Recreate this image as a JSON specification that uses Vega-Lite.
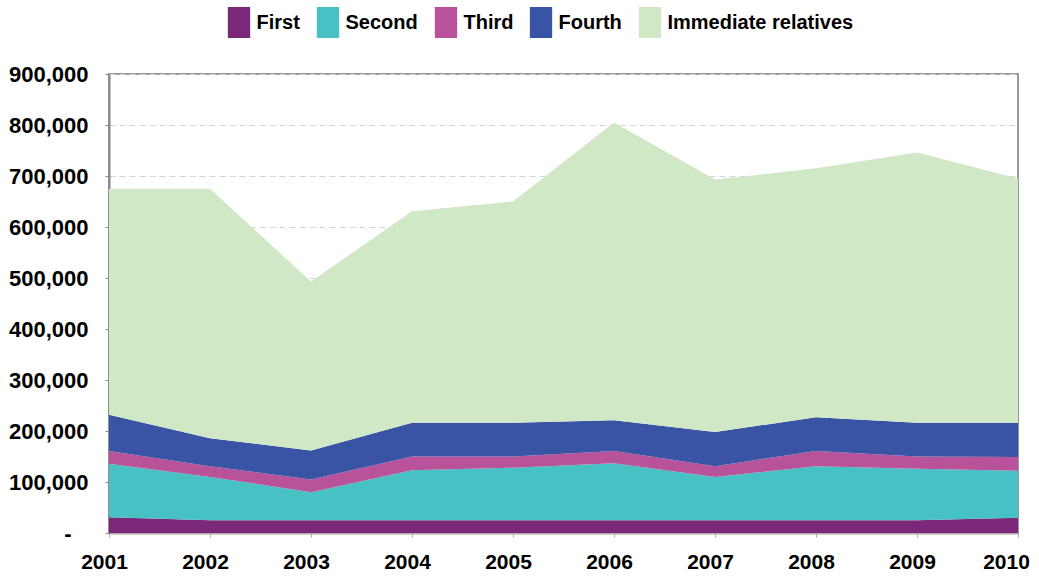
{
  "$schema": "https://vega.github.io/schema/vega-lite/v6.json",
  "autosize": "none",
  "width": 909,
  "height": 459,
  "padding": {"left": 109, "top": 74, "right": 21, "bottom": 53},
  "background": "white",
  "data": {
    "values": [
      {"year": "2001", "series": "First", "value": 31000},
      {"year": "2001", "series": "Second", "value": 105000},
      {"year": "2001", "series": "Third", "value": 25000},
      {"year": "2001", "series": "Fourth", "value": 71000},
      {"year": "2001", "series": "Immediate relatives", "value": 443000},
      {"year": "2002", "series": "First", "value": 25000},
      {"year": "2002", "series": "Second", "value": 85000},
      {"year": "2002", "series": "Third", "value": 21000},
      {"year": "2002", "series": "Fourth", "value": 55000},
      {"year": "2002", "series": "Immediate relatives", "value": 489000},
      {"year": "2003", "series": "First", "value": 25000},
      {"year": "2003", "series": "Second", "value": 55000},
      {"year": "2003", "series": "Third", "value": 25000},
      {"year": "2003", "series": "Fourth", "value": 57000},
      {"year": "2003", "series": "Immediate relatives", "value": 331000},
      {"year": "2004", "series": "First", "value": 25000},
      {"year": "2004", "series": "Second", "value": 98000},
      {"year": "2004", "series": "Third", "value": 27000},
      {"year": "2004", "series": "Fourth", "value": 66000},
      {"year": "2004", "series": "Immediate relatives", "value": 415000},
      {"year": "2005", "series": "First", "value": 25000},
      {"year": "2005", "series": "Second", "value": 103000},
      {"year": "2005", "series": "Third", "value": 22000},
      {"year": "2005", "series": "Fourth", "value": 66000},
      {"year": "2005", "series": "Immediate relatives", "value": 434000},
      {"year": "2006", "series": "First", "value": 25000},
      {"year": "2006", "series": "Second", "value": 112000},
      {"year": "2006", "series": "Third", "value": 24000},
      {"year": "2006", "series": "Fourth", "value": 60000},
      {"year": "2006", "series": "Immediate relatives", "value": 584000},
      {"year": "2007", "series": "First", "value": 25000},
      {"year": "2007", "series": "Second", "value": 85000},
      {"year": "2007", "series": "Third", "value": 21000},
      {"year": "2007", "series": "Fourth", "value": 67000},
      {"year": "2007", "series": "Immediate relatives", "value": 495000},
      {"year": "2008", "series": "First", "value": 25000},
      {"year": "2008", "series": "Second", "value": 106000},
      {"year": "2008", "series": "Third", "value": 30000},
      {"year": "2008", "series": "Fourth", "value": 66000},
      {"year": "2008", "series": "Immediate relatives", "value": 488000},
      {"year": "2009", "series": "First", "value": 25000},
      {"year": "2009", "series": "Second", "value": 101000},
      {"year": "2009", "series": "Third", "value": 24000},
      {"year": "2009", "series": "Fourth", "value": 66000},
      {"year": "2009", "series": "Immediate relatives", "value": 530000},
      {"year": "2010", "series": "First", "value": 30000},
      {"year": "2010", "series": "Second", "value": 92000},
      {"year": "2010", "series": "Third", "value": 27000},
      {"year": "2010", "series": "Fourth", "value": 67000},
      {"year": "2010", "series": "Immediate relatives", "value": 479000}
    ]
  },
  "transform": [
    {"calculate": "indexof(['First', 'Second', 'Third', 'Fourth', 'Immediate relatives'], datum.series)", "as": "stackOrder"}
  ],
  "mark": {"type": "area", "opacity": 1},
  "encoding": {
    "x": {
      "field": "year",
      "type": "ordinal",
      "scale": {"type": "point", "padding": 0},
      "axis": {
        "title": null,
        "labelAngle": 0,
        "labelFont": "Liberation Sans",
        "labelFontWeight": "bold",
        "labelFontSize": 21,
        "labelColor": "#000",
        "labelPadding": 14,
        "labelOffset": {"condition": {"test": "datum.label === '2010'", "value": -12}, "value": -5},
        "labelFlush": false,
        "labelOverlap": false,
        "domainColor": "#aaaaaa",
        "domainWidth": 2,
        "tickColor": "#aaaaaa",
        "tickSize": 4,
        "grid": false
      }
    },
    "y": {
      "field": "value",
      "type": "quantitative",
      "stack": "zero",
      "scale": {"domain": [0, 900000], "nice": false},
      "axis": {
        "title": null,
        "values": [0, 100000, 200000, 300000, 400000, 500000, 600000, 700000, 800000, 900000],
        "format": ",d",
        "labelExpr": "datum.value === 0 ? '-' : datum.label",
        "labelFont": "Liberation Sans",
        "labelFontWeight": "bold",
        "labelFontSize": 22,
        "labelColor": "#000",
        "labelPadding": {"condition": {"test": "datum.value === 0", "value": 34}, "value": 17},
        "domainColor": "#888888",
        "domainWidth": 2,
        "tickColor": "#888888",
        "tickSize": 4,
        "grid": true,
        "gridColor": "#d4d4d4",
        "gridDash": [6, 4],
        "gridWidth": 1
      }
    },
    "color": {
      "field": "series",
      "type": "nominal",
      "sort": ["First", "Second", "Third", "Fourth", "Immediate relatives"],
      "scale": {
        "domain": ["First", "Second", "Third", "Fourth", "Immediate relatives"],
        "range": ["#7b2878", "#47c1c4", "#b8539b", "#3a54a5", "#d1e8c6"]
      },
      "legend": {
        "title": null,
        "orient": "none",
        "direction": "horizontal",
        "legendX": 114.5,
        "legendY": -67,
        "symbolType": "M-0.72,-1H0.72V1H-0.72Z",
        "symbolSize": 961,
        "symbolStrokeWidth": 0,
        "symbolOpacity": 1,
        "labelFont": "Liberation Sans",
        "labelFontWeight": "bold",
        "labelFontSize": 20,
        "labelColor": "#000",
        "labelOffset": 2,
        "columnPadding": 12,
        "labelLimit": 400
      }
    },
    "order": {"field": "stackOrder", "type": "quantitative", "sort": "ascending"}
  },
  "config": {
    "view": {"stroke": "#999999", "strokeWidth": 2}
  }
}
